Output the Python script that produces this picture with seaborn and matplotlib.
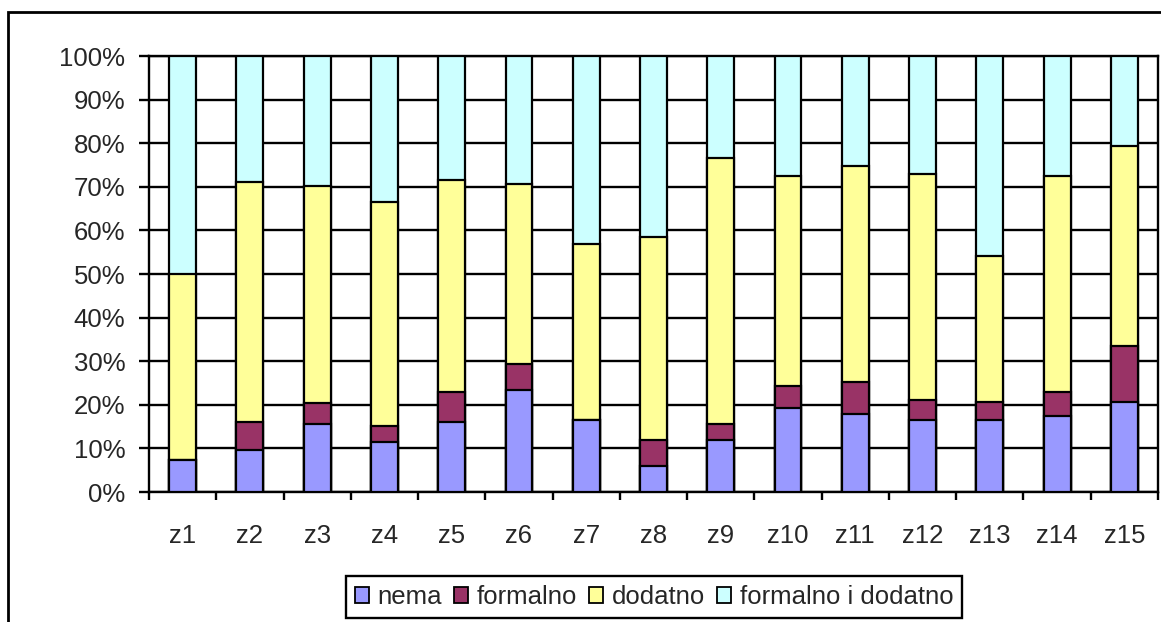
import numpy as np
import pandas as pd
import seaborn as sns
import matplotlib.pyplot as plt
from matplotlib.patches import Patch, Rectangle
from matplotlib.ticker import PercentFormatter

zones = ["z1", "z2", "z3", "z4", "z5", "z6", "z7", "z8", "z9", "z10", "z11", "z12", "z13", "z14", "z15"]
nema = [7.3, 9.6, 15.7, 11.4, 16.0, 23.3, 16.4, 5.9, 11.9, 19.2, 17.8, 16.4, 16.4, 17.4, 20.6]
formalno = [0.0, 6.5, 4.6, 3.7, 6.9, 6.1, 0.0, 6.0, 3.8, 5.1, 7.4, 4.6, 4.2, 5.5, 12.9]
dodatno = [42.8, 54.9, 49.9, 51.4, 48.7, 41.2, 40.5, 46.7, 60.8, 48.1, 49.5, 51.9, 33.5, 49.5, 45.8]
formalno_i_dodatno = [49.9, 29.0, 29.8, 33.5, 28.4, 29.4, 43.1, 41.4, 23.5, 27.6, 25.3, 27.1, 45.9, 27.6, 20.7]

series = ["nema", "formalno", "dodatno", "formalno i dodatno"]
colors = ["#9999FF", "#993366", "#FFFF99", "#CCFFFF"]

df = pd.DataFrame({"zone": zones, "nema": nema, "formalno": formalno,
                   "dodatno": dodatno, "formalno i dodatno": formalno_i_dodatno})
cum = df[series].cumsum(axis=1)

sns.set_style("white")
plt.rcParams["font.family"] = ["Liberation Sans", "DejaVu Sans"]
fs = 18.5

fig = plt.figure(figsize=(11.61, 6.22), dpi=100)
ax = fig.add_axes([149 / 1161, 130 / 622, 1009 / 1161, 436 / 622])

# draw tallest first so each lower segment sits on top of it
for name, col in reversed(list(zip(series, colors))):
    sns.barplot(x=df["zone"], y=cum[name], color=col, saturation=1, width=0.4,
                edgecolor="black", linewidth=1.6, ax=ax, zorder=3)

ax.set_ylim(0, 100)
ax.set_xlim(-0.5, 14.5)
ax.set_yticks(np.arange(0, 101, 10))
ax.yaxis.set_major_formatter(PercentFormatter(decimals=0))
ax.grid(axis="y", color="black", linewidth=1.7, zorder=0)
ax.set_axisbelow(True)
ax.set_xlabel("")
ax.set_ylabel("")
for s in ax.spines.values():
    s.set_color("black")
    s.set_linewidth(1.7)

ax.tick_params(axis="x", which="major", length=0, pad=23, labelsize=fs)
ax.set_xticks(np.arange(-0.5, 15, 1), minor=True)
ax.tick_params(axis="x", which="minor", length=6, width=1.7, color="black", direction="out", bottom=True)
ax.tick_params(axis="y", length=7, width=1.7, color="black", direction="out", pad=10, labelsize=fs, left=True)

handles = [Patch(facecolor=c, edgecolor="black", linewidth=1.3, label=n) for n, c in zip(series, colors)]
leg = fig.legend(handles=handles, loc="center", bbox_to_anchor=(654 / 1161, 25 / 622), ncol=4,
                 frameon=True, fancybox=False, framealpha=1, fontsize=fs, handlelength=0.55,
                 handleheight=0.55, handletextpad=0.35, columnspacing=0.45, borderpad=0.35)
leg.get_frame().set_edgecolor("black")
leg.get_frame().set_linewidth(1.7)

fig.patches.append(Rectangle((8 / 1161, -0.05), 1.1, 1.05 - 12 / 622, transform=fig.transFigure,
                             fill=False, edgecolor="black", linewidth=2))

fig.savefig("out.png", dpi=100)
